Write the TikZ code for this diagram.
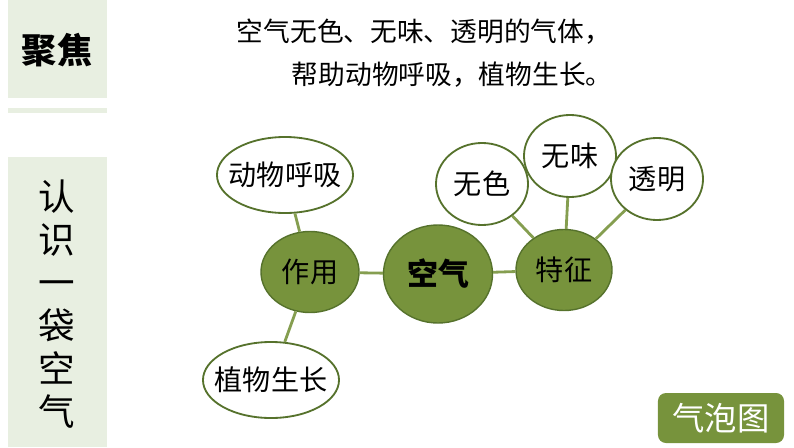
\documentclass[tikz,border=0pt]{standalone}
\usepackage{fontspec}
\setmainfont{Noto Sans CJK SC}
\usetikzlibrary{shapes.geometric}

\definecolor{leaf}{RGB}{119,147,60}
\definecolor{leafdark}{RGB}{86,114,44}
\definecolor{panel}{RGB}{232,239,225}

\begin{document}
\begin{tikzpicture}[
  x=0.025cm, y=-0.025cm,
  hub/.style={ellipse,draw=leafdark,fill=leaf,line width=1pt,inner sep=0pt,
              font=\fontsize{20}{24}\selectfont},
  bubble/.style={ellipse,draw=leafdark,fill=white,line width=1.3pt,inner sep=0pt,
                 minimum width=2.3cm, minimum height=2.05cm,
                 font=\fontsize{20}{24}\selectfont},
  longbubble/.style={bubble,inner xsep=-0.5cm,minimum width=3.4cm,minimum height=1.9cm},
  link/.style={draw=leaf!90,line width=2pt}
]
  \useasboundingbox (0,0) rectangle (794,447);

  \fill[panel] (8,0) rectangle (107,98);
  \fill[panel] (8,108) rectangle (107,113);
  \fill[panel] (8,157) rectangle (107,447);
  \node[font=\fontsize{25}{30}\selectfont\bfseries] (focus) at (57,50) {聚焦};
  \node[font=\fontsize{26}{30.6}\selectfont, align=center] (vtitle) at (57,304)
       {认\\识\\一\\袋\\空\\气};

  \node[anchor=west,font=\fontsize{19}{23}\selectfont] (line1) at (232,32)
       {空气无色、无味、透明的气体，};
  \node[anchor=west,font=\fontsize{19}{23}\selectfont] (line2) at (287,75)
       {帮助动物呼吸，植物生长。};

  \node[hub, minimum width=2.725cm, minimum height=2.45cm,
        font=\fontsize{22}{26}\selectfont\bfseries] (air) at (438,274) {空气};
  \node[hub, minimum width=2.45cm, minimum height=2.025cm] (use)  at (310,272) {作用};
  \node[hub, minimum width=2.4cm, minimum height=2.025cm]  (trait) at (564,270) {特征};

  \node[longbubble] (animal) at (285,175) {动物呼吸};
  \node[longbubble] (plant)  at (271,380) {植物生长};
  \node[bubble] (colorless) at (482,184) {无色};
  \node[bubble] (odorless)  at (570,156) {无味};
  \node[bubble] (clear)     at (657,179) {透明};

  \draw[link] (use) -- (air);
  \draw[link] (air) -- (trait);
  \draw[link] (use) -- (animal);
  \draw[link] (use) -- (plant);
  \draw[link] (trait) -- (colorless);
  \draw[link] (trait) -- (odorless);
  \draw[link] (trait) -- (clear);

  \node[rectangle,rounded corners=2mm,fill=leaf,text=white,
        minimum width=3.15cm,minimum height=1.25cm,
        font=\fontsize{23}{27}\selectfont] (kind) at (721,418) {气泡图};
\end{tikzpicture}
\end{document}
